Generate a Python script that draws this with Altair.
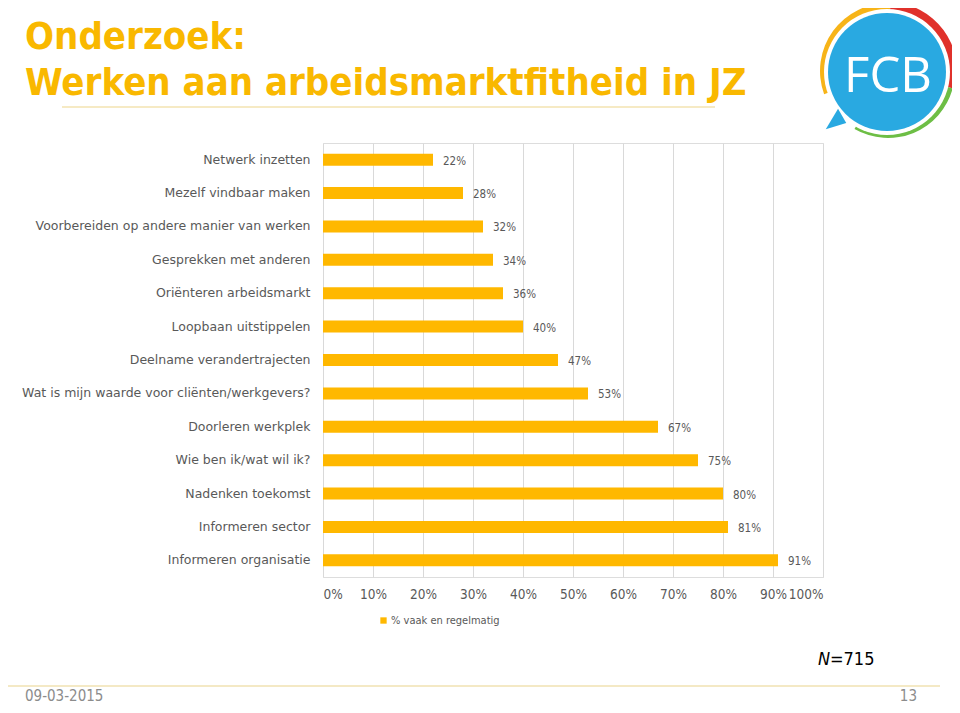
import altair as alt
import pandas as pd
import math

categories = [
    "Netwerk inzetten",
    "Mezelf vindbaar maken",
    "Voorbereiden op andere manier van werken",
    "Gesprekken met anderen",
    "Oriënteren arbeidsmarkt",
    "Loopbaan uitstippelen",
    "Deelname verandertrajecten",
    "Wat is mijn waarde voor cliënten/werkgevers?",
    "Doorleren werkplek",
    "Wie ben ik/wat wil ik?",
    "Nadenken toekomst",
    "Informeren sector",
    "Informeren organisatie",
]
values = [22, 28, 32, 34, 36, 40, 47, 53, 67, 75, 80, 81, 91]
x_ticks = [0, 10, 20, 30, 40, 50, 60, 70, 80, 90, 100]
series_name = "% vaak en regelmatig"
title_lines = ["Onderzoek:", "Werken aan arbeidsmarktfitheid in JZ"]
footer_date = "09-03-2015"
page_number = "13"
n_label = "=715"

FONT = "DejaVu Sans"
CFONT = "DejaVu Sans Condensed"
BAR = "#FFB800"
GREY = "#595959"

df = pd.DataFrame({"cat": categories, "value": values, "series": series_name})

base = alt.Chart(df)

bars = base.mark_bar(color=BAR).encode(
    x=alt.X("value:Q",
            scale=alt.Scale(domain=[0, 100], nice=False, zero=True),
            axis=alt.Axis(values=x_ticks, labelExpr="datum.value + '%'", title=None,
                          grid=True, gridColor="#D9D9D9", domain=False, ticks=False,
                          labelPadding=10, labelFontSize=13.5, labelColor=GREY, labelFont=CFONT)),
    y=alt.Y("cat:N", sort=categories,
            scale=alt.Scale(paddingInner=0.64, paddingOuter=0.32),
            axis=alt.Axis(title=None, domain=False, ticks=False, labelPadding=13,
                          labelFontSize=12.5, labelColor=GREY, labelFont=FONT, labelLimit=400)),
    color=alt.Color("series:N", scale=alt.Scale(range=[BAR]),
                    legend=alt.Legend(orient="none", legendX=55, legendY=472, title=None,
                                      symbolType="square", symbolSize=40, labelFontSize=11,
                                      labelOffset=2, labelColor=GREY, labelFont=CFONT,
                                      symbolStrokeWidth=0)),
)

labels = base.transform_calculate(lbl="datum.value + '%'").mark_text(
    align="left", baseline="middle", dx=10, dy=2, fontSize=11.5, color=GREY, font=CFONT
).encode(x="value:Q", y=alt.Y("cat:N", sort=categories), text="lbl:N")

one = pd.DataFrame({"a": [0]})
ox, oy = 323, 143  # plot origin in page coordinates (for decoration placement)


def txt(s, x, y, **kw):
    return alt.Chart(pd.DataFrame({"t": [s]})).mark_text(**kw).encode(
        x=alt.value(x - ox), y=alt.value(y - oy), text="t:N")


title1 = txt(title_lines[0], 25, 49, align="left", baseline="alphabetic", font=CFONT,
             fontWeight="bold", fontSize=38, color="#F9B800")
title2 = txt(title_lines[1], 25, 95, align="left", baseline="alphabetic", font=CFONT,
             fontWeight="bold", fontSize=38, color="#F9B800")

rule_top = alt.Chart(one).mark_rule(color="#F3E3B0", strokeWidth=1.5).encode(
    x=alt.value(62 - ox), x2=alt.value(715 - ox), y=alt.value(107 - oy))
rule_bot = alt.Chart(one).mark_rule(color="#F1E2B2", strokeWidth=1.5).encode(
    x=alt.value(0 - ox), x2=alt.value(940 - ox), y=alt.value(686 - oy))

date_t = txt(footer_date, 25, 701, align="left", baseline="alphabetic", font=CFONT,
             fontSize=15, color="#8C8C8C")
page_t = txt(page_number, 917, 701, align="right", baseline="alphabetic", font=CFONT,
             fontSize=15, color="#8C8C8C")
n_t = txt("N", 818, 665, align="left", baseline="alphabetic", font=CFONT,
          fontSize=18, fontStyle="italic", color="#000000")
n_t2 = txt(n_label, 830, 665, align="left", baseline="alphabetic", font=CFONT,
           fontSize=18, color="#000000")

# logo
cx, cy = 887, 72
d = math.pi / 180


def arc(r1, r2, t1, t2, col, dx=0, dy=0):
    return alt.Chart(one).mark_arc(color=col).encode(
        x=alt.value(cx + dx - ox), y=alt.value(cy + dy - oy),
        radius=alt.value(r1), radius2=alt.value(r2),
        theta=alt.value(t1), theta2=alt.value(t2))


white = arc(63, 0, 0, 2 * math.pi, "#FFFFFF")
ring_y = arc(68, 61, 250 * d, 362 * d, "#F7B418", dx=1, dy=-1)
ring_r = arc(69, 61, 2 * d, 105 * d, "#E0312B", dx=1, dy=-1)
ring_g = arc(67, 61, 105 * d, 210 * d, "#6DBE45", dx=1, dy=-1)
blue = arc(59, 0, 0, 2 * math.pi, "#29A9E1")
tail = alt.Chart(one).mark_point(
    shape="M 0.2 -1 L 1 0.4 L -1 1 Z", filled=True, color="#29A9E1", opacity=1, size=420
).encode(x=alt.value(836 - ox), y=alt.value(119 - oy))
fcb = txt("FCB", 888, 92, align="center", baseline="alphabetic", font="Open Sans",
          fontSize=49, color="#FFFFFF")

chart = alt.layer(
    bars, labels, title1, title2, rule_top, rule_bot, date_t, page_t, n_t, n_t2,
    ring_y, ring_r, ring_g, white, tail, blue, fcb
).properties(
    width=500, height=434,
    padding={"left": 315, "top": 135, "right": 129, "bottom": 128},
    autosize=alt.AutoSizeParams(type="none"),
).configure_view(stroke=None).configure(background="white")

chart.save("out.html", embed_options={"renderer": "svg", "actions": False})
